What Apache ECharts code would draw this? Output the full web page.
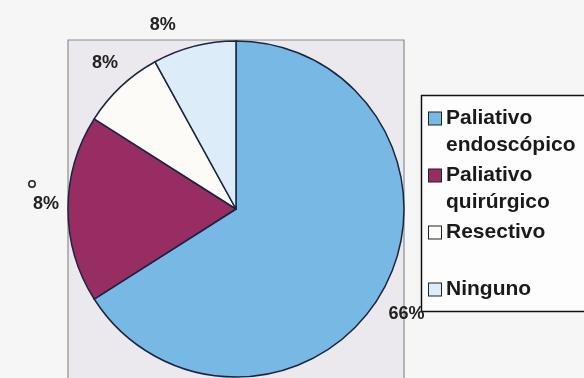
<!DOCTYPE html>
<html><head><meta charset="utf-8">
<script src="https://cdn.jsdelivr.net/npm/echarts@6/dist/echarts.min.js"></script>
<style>html,body{margin:0;padding:0;background:#f6f6f6;}#c{width:584px;height:378px;}</style>
</head><body><div id="c"></div>
<script>
const categories = ["Paliativo\nendoscópico", "Paliativo\nquirúrgico", "Resectivo", "Ninguno"];
const values = [66, 18, 8, 8];
const labels = ["66%", "8%", "8%", "8%"];
const colors = ["#78b8e4", "#972d63", "#fcfbf7", "#dcecf8"];

const chart = echarts.init(document.getElementById('c'), null, {renderer: 'canvas'});
const F = '"Liberation Sans", Arial, sans-serif';
const labelShift = [[-5, 21], [18, -5], [17, -7], [-8, 0]];

const rich = {
  t: {fontFamily: F, fontWeight: 'bold', fontSize: 21, color: '#1a1a1a', lineHeight: 27},
  g: {width: 5, height: 13},
  s: {width: 17, height: 13}
};
colors.forEach((c, i) => {
  rich['b' + i] = {width: 12, height: 12, backgroundColor: c, borderColor: '#222', borderWidth: 1};
});

chart.setOption({
  backgroundColor: '#f6f6f6',
  animation: false,
  graphic: [
    {type: 'rect', z: -10, shape: {x: 68, y: 40, width: 336, height: 345}, style: {fill: '#ebe9ed', stroke: '#8c8c8c', lineWidth: 1.2}},
    {type: 'rect', z: -10, shape: {x: 421.5, y: 95.5, width: 170, height: 216}, style: {fill: '#fdfdfd', stroke: '#111', lineWidth: 1.5}},
    {type: 'circle', shape: {cx: 32, cy: 184, r: 3.2}, style: {fill: 'none', stroke: '#222', lineWidth: 1.5}}
  ],
  legend: {
    orient: 'vertical', left: 419, top: 100, itemWidth: 0, itemHeight: 0, itemGap: 3,
    icon: 'none',
    data: categories,
    textStyle: {fontFamily: F, fontWeight: 'bold', fontSize: 21, color: '#1a1a1a', lineHeight: 27, rich: rich},
    formatter: n => {
      const i = categories.indexOf(n);
      const lines = n.split('\n');
      if (lines.length === 1 && n === 'Resectivo') lines.push(' ');
      return lines.map((l, k) => (k === 0 ? '{b' + i + '|}{g|}' : '{s|}') + '{t|' + l + '}').join('\n');
    }
  },
  series: [{
    type: 'pie', center: [236, 209], radius: 168, startAngle: 90, clockwise: true,
    avoidLabelOverlap: false,
    itemStyle: {borderColor: '#1b2540', borderWidth: 1.5},
    label: {show: true, position: 'outside', fontFamily: F, fontWeight: 'bold', fontSize: 18, color: '#222'},
    labelLine: {show: false, length: 22, length2: 0},
    labelLayout: p => ({dx: labelShift[p.dataIndex][0], dy: labelShift[p.dataIndex][1]}),
    data: categories.map((c, i) => ({
      name: c, value: values[i], itemStyle: {color: colors[i]},
      label: {formatter: labels[i]},
      labelLine: {length: i === 0 ? 6 : 22, length2: 0}
    }))
  }]
});
</script></body></html>
